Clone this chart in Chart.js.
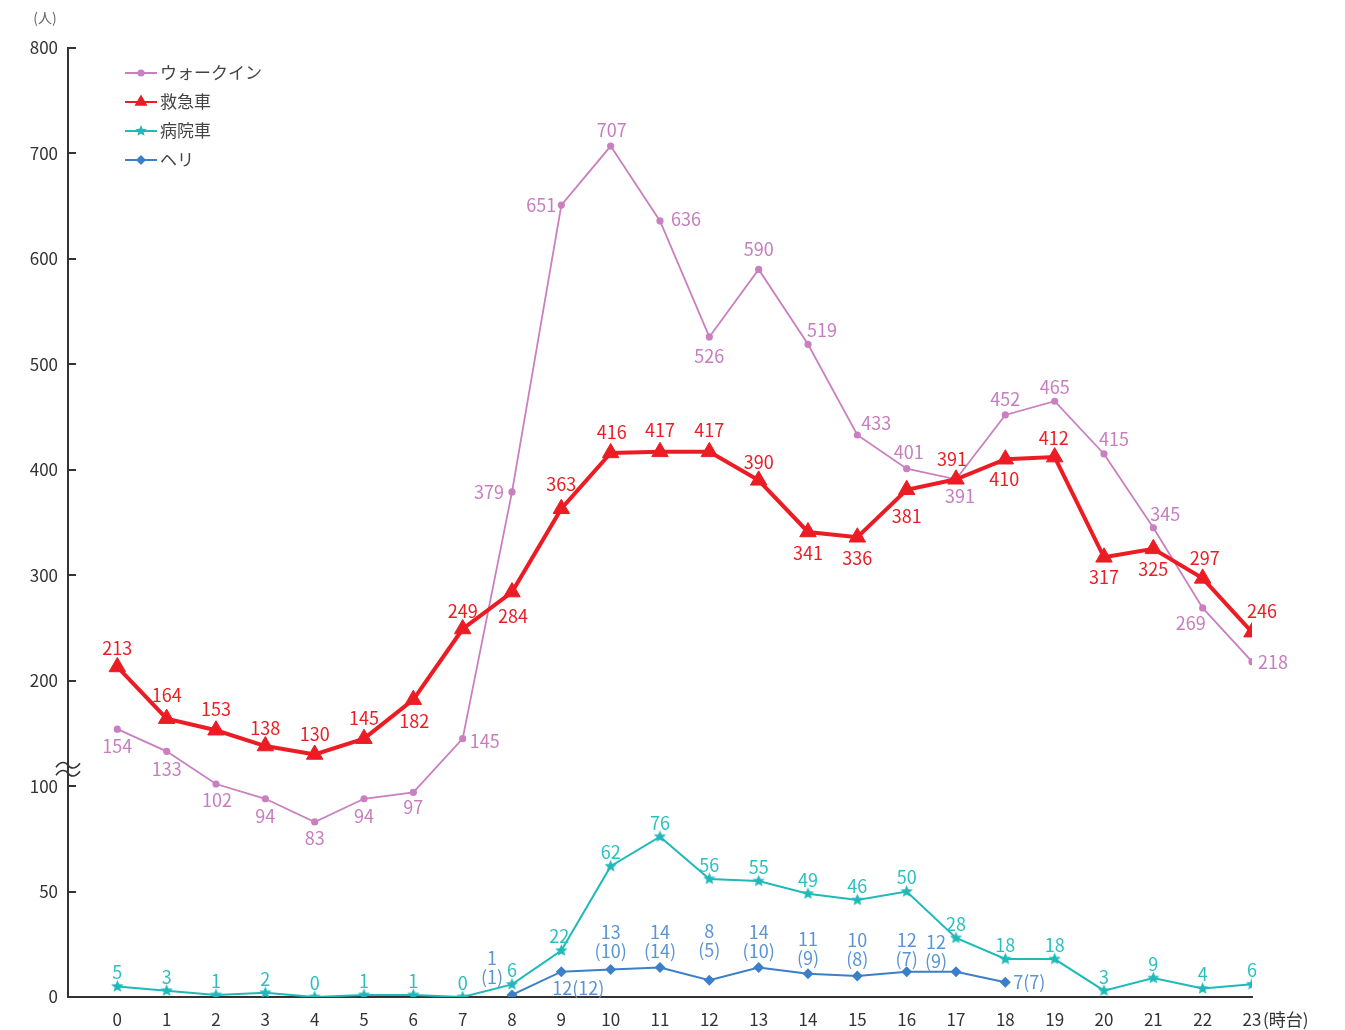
<!DOCTYPE html>
<html lang="ja">
<head>
<meta charset="utf-8">
<title>時間帯別 来院者数</title>
<script src="https://cdn.jsdelivr.net/npm/chart.js@4.4.1/dist/chart.umd.min.js"></script>
<style>
  html, body { margin: 0; padding: 0; background: #fff; }
  #wrap { width: 1345px; height: 1030px; position: relative; }
</style>
</head>
<body>
<div id="wrap"><canvas id="hourChart"></canvas></div>
<script>
// hours of the day (時台)
var hours = [0, 1, 2, 3, 4, 5, 6, 7, 8, 9, 10, 11, 12, 13, 14, 15, 16, 17, 18, 19, 20, 21, 22, 23];

var walkIn      = [154, 133, 102, 94, 83, 94, 97, 145, 379, 651, 707, 636, 526, 590, 519, 433, 401, 391, 452, 465, 415, 345, 269, 218];
var ambulance   = [213, 164, 153, 138, 130, 145, 182, 249, 284, 363, 416, 417, 417, 390, 341, 336, 381, 391, 410, 412, 317, 325, 297, 246];
var hospitalCar = [5, 3, 1, 2, 0, 1, 1, 0, 6, 22, 62, 76, 56, 55, 49, 46, 50, 28, 18, 18, 3, 9, 4, 6];
var heli        = [null, null, null, null, null, null, null, null, 1, 12, 13, 14, 8, 14, 11, 10, 12, 12, 7, null, null, null, null, null];
var heliSub     = [null, null, null, null, null, null, null, null, 1, 12, 10, 14, 5, 10, 9, 8, 7, 9, 7, null, null, null, null, null];

var yTickValues = [0, 50, 100, 200, 300, 400, 500, 600, 700, 800];

// label offsets [dx, dy] from each point
var walkInLabelPos = [[0,17],[0,18],[1,16],[0,17],[0,16],[0,17],[0,15],[22,2],[-23,0],[-20,0],[1,-16],[26,-2],
                      [0,19],[0,-20],[14,-14],[19,-12],[2,-17],[4,17],[0,-16],[0,-14],[10,-15],[12,-14],[-12,15],[21,0]];
var ambulanceLabelPos = [[0,-19],[0,-23],[0,-21],[0,-18],[0,-20],[0,-21],[1,22],[0,-18],[1,24],[0,-25],[1,-21],[0,-22],
                         [0,-22],[0,-18],[0,21],[0,21],[0,26],[-4,-20],[-1,20],[-1,-19],[0,20],[0,20],[2,-20],[10,-21]];
var hospitalLabelPos = hours.map(function(h) { return h === 9 ? [-2,-14] : [0,-14]; });
// heli: 'stack' = count above, (sub) below it ; 'inline' = count(sub) on one line
var heliLabelPos = {8:[-20,-37,'stack'], 9:[17,16,'inline'], 10:[0,-37,'stack'], 11:[0,-35,'stack'], 12:[0,-49,'stack'],
                    13:[0,-35,'stack'], 14:[0,-35,'stack'], 15:[0,-36,'stack'], 16:[0,-32,'stack'], 17:[-20,-30,'stack'],
                    18:[24,0,'inline']};

// values above 100 are drawn at half scale (axis is broken at 100)
function squash(v) {
  if (v === null) return null;
  return v <= 100 ? v : 100 + (v - 100) / 2;
}
function unsquash(t) {
  return t <= 100 ? t : 100 + (t - 100) * 2;
}

function makeStar(r, color) {
  var c = document.createElement('canvas');
  var s = Math.ceil(r * 2 + 2);
  c.width = s; c.height = s;
  var g = c.getContext('2d');
  g.fillStyle = color;
  g.beginPath();
  for (var k = 0; k < 10; k++) {
    var rr = k % 2 ? r * 0.45 : r;
    var a = -Math.PI / 2 + k * Math.PI / 5;
    g.lineTo(s / 2 + rr * Math.cos(a), s / 2 + rr * Math.sin(a));
  }
  g.closePath();
  g.fill();
  return c;
}

var FONT = "'Noto Sans CJK JP', 'Noto Sans', sans-serif";
var cPink = '#c97fc0', cRed = '#ec1c24', cTeal = '#1fb9b9', cBlue = '#3b80c6';
var starImg = makeStar(6.5, cTeal);
var starLegend = makeStar(6, cTeal);

function toPoints(arr) {
  return hours.map(function(h, i) { return { x: h, y: squash(arr[i]) }; });
}

Chart.defaults.font.family = FONT;
Chart.defaults.font.size = 17;
Chart.defaults.color = '#333';

var datasets = [
  {
    label: 'ウォークイン', data: toPoints(walkIn), raw: walkIn, labelPos: walkInLabelPos, labelColor: '#c77dbf',
    borderColor: cPink, backgroundColor: cPink, borderWidth: 1.8,
    pointStyle: 'circle', pointRadius: 3.6, pointBorderWidth: 0, order: 1,
    legendMark: { pointStyle: 'circle', radius: 3.6 }
  },
  {
    label: '救急車', data: toPoints(ambulance), raw: ambulance, labelPos: ambulanceLabelPos, labelColor: cRed,
    borderColor: cRed, backgroundColor: cRed, borderWidth: 4,
    pointStyle: 'triangle', pointRadius: 9.5, pointBorderWidth: 1, order: 0,
    legendMark: { pointStyle: 'triangle', radius: 7.5 }
  },
  {
    label: '病院車', data: toPoints(hospitalCar), raw: hospitalCar, labelPos: hospitalLabelPos, labelColor: '#2cbfbf',
    borderColor: cTeal, backgroundColor: cTeal, borderWidth: 2,
    pointStyle: starImg, pointRadius: 6, order: 2,
    legendMark: { pointStyle: starLegend, radius: 6 }
  },
  {
    label: 'ヘリ', data: toPoints(heli), raw: heli, heliLabels: true, labelColor: '#5a94d2',
    borderColor: cBlue, backgroundColor: cBlue, borderWidth: 2,
    pointStyle: 'rectRot', pointRadius: 5.5, pointBorderWidth: 0, order: 3,
    legendMark: { pointStyle: 'rectRot', radius: 5 }
  }
];

// value labels next to points
var pointLabels = {
  id: 'pointLabels',
  afterDatasetsDraw: function(chart) {
    var ctx = chart.ctx;
    ctx.save();
    ctx.font = '18px ' + FONT;
    ctx.textAlign = 'center';
    ctx.textBaseline = 'middle';
    chart.data.datasets.forEach(function(ds, i) {
      var meta = chart.getDatasetMeta(i);
      ctx.fillStyle = ds.labelColor;
      meta.data.forEach(function(pt, j) {
        var v = ds.raw[j];
        if (v === null || v === undefined) return;
        if (ds.heliLabels) {
          var p = heliLabelPos[j];
          if (!p) return;
          if (p[2] === 'inline') {
            ctx.fillText(v + '(' + heliSub[j] + ')', pt.x + p[0], pt.y + p[1]);
          } else {
            ctx.fillText(String(v), pt.x + p[0], pt.y + p[1]);
            ctx.fillText('(' + heliSub[j] + ')', pt.x + p[0], pt.y + p[1] + 19);
          }
          return;
        }
        var off = ds.labelPos[j];
        ctx.fillText(String(v), pt.x + off[0], pt.y + off[1]);
      });
    });
    ctx.restore();
  }
};

// axis decorations, units and legend
var extras = {
  id: 'extras',
  afterDraw: function(chart) {
    var ctx = chart.ctx;
    var ys = chart.scales.y, xs = chart.scales.x;
    var left = chart.chartArea.left;
    ctx.save();

    // inward tick marks
    ctx.strokeStyle = '#333';
    ctx.lineWidth = 2;
    yTickValues.forEach(function(v) {
      var py = Math.round(ys.getPixelForValue(squash(v)));
      ctx.beginPath();
      ctx.moveTo(left, py);
      ctx.lineTo(left + 8, py);
      ctx.stroke();
    });

    // break mark on the axis
    var by = ys.getPixelForValue(108);
    ctx.lineWidth = 1.6;
    [-4, 4].forEach(function(d) {
      var y0 = by + d;
      ctx.beginPath();
      ctx.moveTo(left - 12, y0 + 2);
      ctx.bezierCurveTo(left - 7, y0 - 5, left - 2, y0 - 3, left, y0);
      ctx.bezierCurveTo(left + 2, y0 + 3, left + 7, y0 + 5, left + 12, y0 - 2);
      ctx.stroke();
    });

    // units
    ctx.fillStyle = '#666';
    ctx.font = '14px ' + FONT;
    ctx.textAlign = 'center';
    ctx.textBaseline = 'middle';
    ctx.fillText('(人)', 45, 18);
    ctx.fillStyle = '#333';
    ctx.font = '17px ' + FONT;
    ctx.textAlign = 'left';
    ctx.fillText('(時台)', xs.getPixelForValue(23) + 11, xs.top + 23);

    // legend
    var lx = 125, ly = 73, gap = 29;
    chart.data.datasets.forEach(function(ds, i) {
      var y = ly + i * gap;
      ctx.strokeStyle = ds.borderColor;
      ctx.fillStyle = ds.backgroundColor;
      ctx.lineWidth = 2;
      ctx.beginPath();
      ctx.moveTo(lx, y);
      ctx.lineTo(lx + 32, y);
      ctx.stroke();
      Chart.helpers.drawPoint(ctx, {
        pointStyle: ds.legendMark.pointStyle, radius: ds.legendMark.radius, rotation: 0, borderWidth: 0
      }, lx + 16, y);
      ctx.fillStyle = '#444';
      ctx.font = '17px ' + FONT;
      ctx.textAlign = 'left';
      ctx.textBaseline = 'middle';
      ctx.fillText(ds.label, lx + 35, y);
    });
    ctx.restore();
  }
};

var ctx = document.getElementById('hourChart').getContext('2d');
var hourChart = new Chart(ctx, {
  type: 'line',
  data: { datasets: datasets },
  options: {
    responsive: true,
    maintainAspectRatio: false,
    animation: false,
    layout: { padding: { left: 0, right: 93, top: 48, bottom: 0 } },
    plugins: { legend: { display: false }, tooltip: { enabled: false } },
    scales: {
      x: {
        type: 'linear',
        min: -1, max: 23,
        afterFit: function(scale) { scale.height = 33; },
        grid: { display: false, drawTicks: false },
        border: { display: true, color: '#333', width: 2 },
        ticks: {
          stepSize: 1, autoSkip: false, maxRotation: 0, padding: 12, color: '#333',
          callback: function(v) { return v < 0 ? '' : String(v); }
        }
      },
      y: {
        min: 0, max: squash(800),
        afterFit: function(scale) { scale.width = 68; },
        afterBuildTicks: function(scale) {
          scale.ticks = yTickValues.map(function(v) { return { value: squash(v) }; });
        },
        grid: { display: false, drawTicks: false },
        border: { display: true, color: '#333', width: 2 },
        ticks: {
          padding: 10, color: '#333',
          callback: function(t) { return String(unsquash(t)); }
        }
      }
    }
  },
  plugins: [pointLabels, extras]
});
</script>
</body>
</html>
